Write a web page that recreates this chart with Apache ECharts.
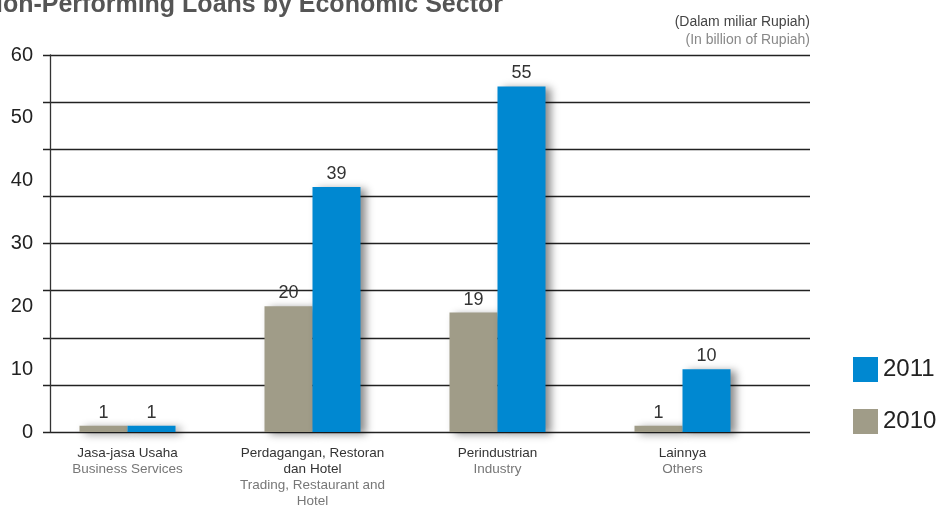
<!DOCTYPE html>
<html>
<head>
<meta charset="utf-8">
<script src="https://cdn.jsdelivr.net/npm/echarts@6/dist/echarts.min.js"></script>
<style>
  html, body { margin: 0; padding: 0; background: #fff; }
  #chart { width: 939px; height: 506px; }
</style>
</head>
<body>
<div id="chart"></div>
<script>
// Sector names (Indonesian / English) and NPL values per year, billion Rupiah
const sectorsId = ['Jasa-jasa Usaha', 'Perdagangan, Restoran\ndan Hotel', 'Perindustrian', 'Lainnya'];
const sectorsEn = ['Business Services', 'Trading, Restaurant and\nHotel', 'Industry', 'Others'];
const values2010 = [1, 20, 19, 1];
const values2011 = [1, 39, 55, 10];
const yTicks = [0, 10, 20, 30, 40, 50, 60];

const categories = sectorsId.map((s, i) => s + '|' + sectorsEn[i]);

const FONT = '"Liberation Sans", Arial, sans-serif';
const GRAY = '#a09c88';
const BLUE = '#0088d1';

const barShadow = {
  shadowBlur: 8,
  shadowOffsetX: 5,
  shadowOffsetY: 2,
  shadowColor: 'rgba(0,0,0,0.45)'
};

const valueLabel = {
  show: true,
  position: 'top',
  distance: 4,
  color: '#333',
  fontFamily: FONT,
  fontSize: 18
};

const chart = echarts.init(document.getElementById('chart'), null, { renderer: 'canvas' });

chart.setOption({
  backgroundColor: '#fff',
  animation: false,
  title: [
    {
      text: 'Non-Performing Loans by Economic Sector',
      right: 436,
      top: -7,
      padding: 0,
      textStyle: { fontFamily: FONT, fontSize: 25, fontWeight: 'bold', color: '#555' }
    },
    {
      text: '(Dalam miliar Rupiah)',
      right: 129,
      top: 15,
      padding: 0,
      textStyle: { fontFamily: FONT, fontSize: 14, fontWeight: 'normal', color: '#444' }
    },
    {
      text: '(In billion of Rupiah)',
      right: 129,
      top: 33,
      padding: 0,
      textStyle: { fontFamily: FONT, fontSize: 14, fontWeight: 'normal', color: '#888' }
    }
  ],
  legend: {
    data: ['2011', '2010'],
    orient: 'vertical',
    left: 853,
    top: 357,
    padding: 0,
    itemWidth: 25,
    itemHeight: 25,
    itemGap: 27,
    icon: 'rect',
    textStyle: { fontFamily: FONT, fontSize: 24, color: '#222' }
  },
  grid: [
    // bars
    { left: 35, width: 740, top: 55, bottom: 74, outerBoundsMode: 'none' },
    // horizontal rules
    { left: 43, right: 129, top: 55, bottom: 74, outerBoundsMode: 'none' },
    // value axis with labels
    { left: 50, right: 129, top: 55, bottom: 74, outerBoundsMode: 'none' }
  ],
  xAxis: [
    {
      gridIndex: 0,
      type: 'category',
      data: categories,
      axisLine: { show: false },
      axisTick: { show: false },
      axisLabel: {
        margin: 13,
        interval: 0,
        formatter: function (v) {
          const parts = v.split('|');
          return '{a|' + parts[0].split('\n').join('}\n{a|') + '}\n{b|' + parts[1].split('\n').join('}\n{b|') + '}';
        },
        rich: {
          a: { fontFamily: FONT, fontSize: 13.5, color: '#333', lineHeight: 16 },
          b: { fontFamily: FONT, fontSize: 13.5, color: '#777', lineHeight: 16 }
        }
      }
    },
    { gridIndex: 1, type: 'value', show: false },
    { gridIndex: 2, type: 'value', show: false }
  ],
  yAxis: [
    { gridIndex: 0, type: 'value', min: 0, max: 60, show: false },
    {
      gridIndex: 1,
      type: 'value',
      min: 0,
      max: 60,
      interval: 7.5,
      axisLine: { show: false },
      axisTick: { show: false },
      axisLabel: { show: false },
      splitLine: { show: true, lineStyle: { color: '#222', width: 1.3 } }
    },
    {
      gridIndex: 2,
      type: 'value',
      min: yTicks[0],
      max: yTicks[yTicks.length - 1],
      interval: 10,
      axisLine: { show: true, lineStyle: { color: '#333', width: 1.3 } },
      axisTick: { show: false },
      splitLine: { show: false },
      axisLabel: {
        margin: 17,
        color: '#222',
        fontFamily: FONT,
        fontSize: 20
      }
    }
  ],
  series: [
    {
      name: '2010',
      type: 'bar',
      xAxisIndex: 0,
      yAxisIndex: 0,
      data: values2010,
      barWidth: 48,
      barGap: '0%',
      itemStyle: Object.assign({ color: GRAY }, barShadow),
      label: valueLabel,
      z: 3
    },
    {
      name: '2011',
      type: 'bar',
      xAxisIndex: 0,
      yAxisIndex: 0,
      data: values2011,
      barWidth: 48,
      barGap: '0%',
      itemStyle: Object.assign({ color: BLUE }, barShadow),
      label: valueLabel,
      z: 3
    }
  ]
});
</script>
</body>
</html>
